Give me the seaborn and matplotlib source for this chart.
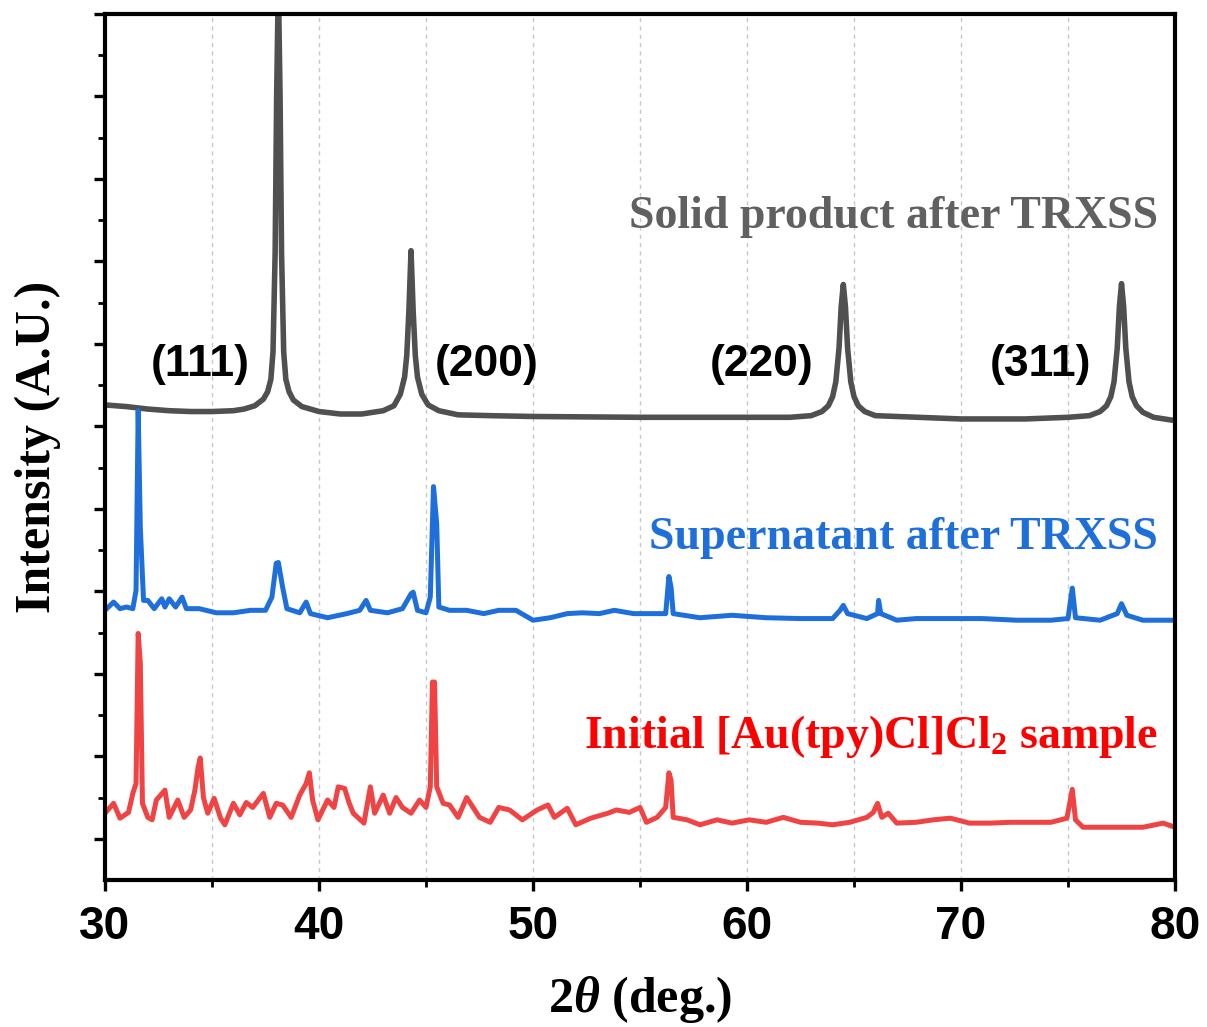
import matplotlib
matplotlib.use("Agg")
import matplotlib.pyplot as plt
from matplotlib.ticker import MultipleLocator, FixedLocator
import seaborn as sns

# 2theta (deg.) / intensity (arb. units)
solid_x = [30.0, 31.0, 32.0, 33.0, 34.0, 35.0, 36.0, 36.5, 37.0, 37.4, 37.6, 37.75,
           37.85, 37.95, 38.02, 38.1, 38.18, 38.25, 38.35, 38.45, 38.6, 38.8, 39.2, 40.0,
           41.0, 42.0, 43.0, 43.5, 43.8, 44.0, 44.1, 44.2, 44.3, 44.4, 44.5, 44.6,
           44.8, 45.1, 45.6, 46.5, 48.0, 50.0, 55.0, 60.0, 62.0, 63.0, 63.5, 63.8,
           64.0, 64.15, 64.3, 64.4, 64.5, 64.6, 64.7, 64.85, 65.0, 65.2, 65.5, 66.0,
           68.0, 70.0, 73.0, 75.0, 76.0, 76.5, 76.8, 77.0, 77.15, 77.3, 77.4, 77.5,
           77.6, 77.7, 77.85, 78.0, 78.2, 78.5, 79.0, 80.0]
solid_y = [576, 574, 571, 569, 568, 568, 569, 571, 575, 583, 592, 607,
           640, 760, 950, 1090, 950, 760, 640, 607, 592, 582, 574, 568,
           565, 565, 569, 575, 589, 610, 636, 690, 763, 690, 636, 610,
           589, 576, 569, 564, 563, 562, 561, 561, 561, 563, 568, 575,
           586, 604, 645, 695, 722, 695, 645, 604, 586, 575, 568, 563,
           561, 559, 559, 561, 563, 568, 575, 586, 604, 645, 695, 723,
           695, 645, 604, 586, 575, 567, 561, 557]

super_x = [30.0, 30.4, 30.7, 31.0, 31.3, 31.45, 31.55, 31.65, 31.8, 32.0, 32.3, 32.65,
           32.8, 33.0, 33.3, 33.6, 33.8, 34.4, 35.2, 36.0, 36.8, 37.5, 37.8, 38.0,
           38.1, 38.3, 38.5, 39.1, 39.4, 39.6, 40.4, 41.3, 41.9, 42.2, 42.4, 43.2,
           43.9, 44.3, 44.4, 44.6, 45.0, 45.2, 45.35, 45.5, 45.6, 46.1, 46.9, 47.7,
           48.4, 49.2, 50.0, 50.8, 51.6, 52.3, 53.1, 53.8, 54.7, 55.5, 56.2, 56.35,
           56.45, 56.55, 57.8, 59.3, 60.9, 62.5, 64.0, 64.35, 64.5, 64.7, 65.6, 66.1,
           66.15, 66.25, 67.0, 67.9, 69.5, 71.0, 72.6, 74.2, 75.0, 75.2, 75.35, 76.5,
           77.3, 77.5, 77.75, 78.5, 79.8, 80.0]
super_y = [327, 337, 329, 331, 329, 351, 569, 427, 339, 339, 329, 341,
           331, 341, 331, 343, 329, 329, 324, 324, 327, 327, 343, 384,
           385, 355, 329, 324, 337, 323, 318, 323, 327, 339, 327, 324,
           329, 347, 349, 327, 324, 343, 477, 432, 331, 327, 327, 323,
           327, 327, 315, 318, 323, 324, 323, 327, 323, 323, 323, 368,
           355, 323, 318, 321, 318, 317, 317, 327, 333, 323, 317, 323,
           339, 323, 315, 317, 317, 317, 315, 315, 317, 354, 318, 315,
           323, 335, 321, 315, 315, 315]

init_x = [30.0, 30.4, 30.7, 31.1, 31.3, 31.45, 31.55, 31.65, 31.75, 32.0, 32.2, 32.4,
          32.8, 33.0, 33.4, 33.7, 34.0, 34.2, 34.35, 34.45, 34.6, 34.8, 35.1, 35.4,
          35.6, 36.0, 36.3, 36.6, 36.9, 37.4, 37.7, 38.0, 38.3, 38.7, 39.1, 39.4,
          39.55, 39.7, 39.95, 40.4, 40.7, 40.9, 41.2, 41.4, 41.6, 42.1, 42.4, 42.6,
          43.0, 43.3, 43.6, 43.9, 44.3, 44.7, 45.0, 45.2, 45.3, 45.4, 45.5, 45.8,
          46.1, 46.5, 46.9, 47.2, 47.5, 48.0, 48.4, 48.9, 49.5, 50.2, 50.7, 51.0,
          51.6, 52.0, 52.7, 53.5, 53.9, 54.5, 55.0, 55.3, 55.8, 56.2, 56.35, 56.45,
          56.55, 57.2, 57.8, 58.6, 59.3, 60.1, 60.9, 61.7, 62.5, 63.3, 64.0, 64.8,
          65.6, 65.9, 66.1, 66.3, 66.6, 67.0, 67.9, 68.7, 69.5, 70.4, 71.35, 72.3,
          73.2, 74.2, 74.95, 75.2, 75.35, 75.7, 76.6, 77.6, 78.5, 79.45, 80.0]
init_y = [81, 93, 75, 82, 105, 117, 299, 263, 93, 76, 73, 97,
          109, 76, 97, 76, 85, 109, 137, 148, 100, 81, 99, 75,
          67, 93, 79, 94, 88, 105, 76, 93, 91, 76, 103, 117,
          130, 97, 73, 97, 88, 113, 111, 94, 81, 69, 113, 81,
          103, 81, 100, 88, 81, 97, 88, 113, 240, 240, 113, 93,
          91, 76, 100, 88, 76, 70, 88, 85, 73, 85, 91, 76,
          87, 67, 75, 81, 85, 82, 88, 70, 76, 88, 130, 121,
          76, 73, 67, 73, 69, 73, 70, 76, 70, 69, 67, 70,
          76, 82, 93, 76, 81, 69, 70, 73, 75, 69, 69, 70,
          70, 70, 75, 110, 73, 64, 64, 64, 64, 69, 64]

peak_labels = ["(111)", "(200)", "(220)", "(311)"]
peak_label_x = [34.45, 47.85, 60.7, 73.7]

series_labels = ["Solid product after TRXSS",
                 "Supernatant after TRXSS",
                 r"Initial [Au(tpy)Cl]Cl$_2$ sample"]
series_label_y = [790, 401, 160]

line_colors = ["#505050", "#1f6fdb", "#f04444"]
text_colors = ["#606060", "#1f6fdb", "#ff0000"]

sns.set_theme(style="white")
plt.rcParams["font.family"] = ["Liberation Serif", "DejaVu Serif"]
plt.rcParams["text.color"] = "black"
plt.rcParams["axes.labelcolor"] = "black"
plt.rcParams["xtick.color"] = "black"
plt.rcParams["ytick.color"] = "black"
plt.rcParams["mathtext.fontset"] = "custom"
plt.rcParams["mathtext.rm"] = "Liberation Serif:bold"
plt.rcParams["mathtext.it"] = "Liberation Serif:italic:bold"
plt.rcParams["mathtext.bf"] = "Liberation Serif:bold"

fig = plt.figure(figsize=(12.07, 10.27), dpi=100)
ax = fig.add_axes([0.087, 0.1431, 0.8865, 0.8433])

widths = [4.0, 3.6, 3.6]
for xs, ys, c, lw in zip([solid_x, super_x, init_x], [solid_y, super_y, init_y],
                         line_colors, widths):
    sns.lineplot(x=xs, y=ys, color=c, linewidth=lw, ax=ax, estimator=None, sort=False)

ax.set_xlim(30, 80)
ax.set_ylim(0, 1050)

# frame and ticks
for s in ax.spines.values():
    s.set_linewidth(3.0)
    s.set_color("black")
ax.xaxis.set_major_locator(MultipleLocator(10))
ax.xaxis.set_minor_locator(MultipleLocator(5))
ax.yaxis.set_major_locator(FixedLocator([50 + 100 * k for k in range(11)]))
ax.yaxis.set_minor_locator(FixedLocator([100 * k for k in range(1, 11)]))
ax.tick_params(axis="both", which="major", direction="out", length=8, width=2.4,
               color="black", labelcolor="black",
               bottom=True, left=True, top=False, right=False)
ax.tick_params(axis="both", which="minor", direction="out", length=5, width=2.0,
               color="black", bottom=True, left=True, top=False, right=False)
ax.tick_params(axis="x", which="major", pad=10)
ax.set_yticklabels([])
for lab in ax.get_xticklabels():
    lab.set_fontfamily("Liberation Sans")
    lab.set_fontweight("bold")
    lab.set_fontsize(33)
    lab.set_color("black")

# vertical dashed guides every 5 degrees
for gx in range(35, 80, 5):
    ax.axvline(gx, color="#c8c8c8", linestyle=(0, (3, 3)), linewidth=1.0, zorder=0)

ax.set_xlabel(r"2$\theta$ (deg.)", fontsize=36, fontweight="bold", labelpad=18,
              color="black")
ax.set_ylabel("Intensity (A.U.)", fontsize=36, fontweight="bold", labelpad=20,
              color="black")

for lab, lx in zip(peak_labels, peak_label_x):
    ax.text(lx, 611, lab, ha="center", va="baseline", fontsize=32,
            fontweight="bold", family="Liberation Sans", color="black")

for lab, ly, c in zip(series_labels, series_label_y, text_colors):
    ax.text(79.2, ly, lab, ha="right", va="baseline", fontsize=33,
            fontweight="bold", color=c)

fig.savefig("out.png", dpi=100)
plt.close(fig)
